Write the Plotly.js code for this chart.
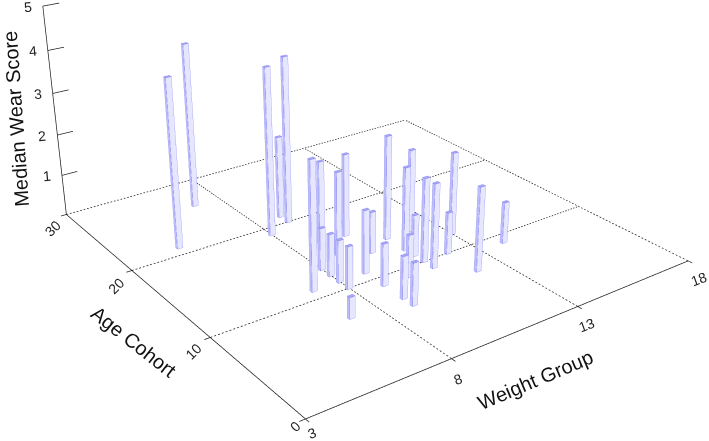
<!DOCTYPE html><html><head><meta charset="utf-8"><script src="https://cdn.plot.ly/plotly-3.0.1.min.js"></script></head><body style="margin:0;background:#fff;overflow:hidden">
<div id="g" style="width:709px;height:441px"></div>
<script>
const weightGroup=[5,7,8,9,9,7,9,8,8,9,8,10,8,7,9,10,9,11,11,12,11,10,9,9,11,11,12,13,12,14];
const ageCohort=[21,26,19,21,20,11,16,13,12,14,11,16,10,7,11,13,9,14,12,14,11,9,7,6,10,9,10,12,7,9];
const wearScore=[4,4,4,2,4,3,2,1,1,2,1,2,1,0.5,1.5,1,1,2.5,2,2,1,1,1,1,2,2,1,2,2,1];
const xTicks=[3,8,13,18],yTicks=[0,10,20,30],zTicks=[1,2,3,4,5];
const xLabelShift=[[7,-14],[7,-20],[9,-19],[11,-18]];
const yLabelShift=[[-10,-7],[-16,-14],[-16,-15],[-13,-14]];
const zLabelShift=[-15,-1];
const focal=1270,fov=2*Math.atan(220.5/focal);
const eye={x:-1.5083,y:-2.0466,z:1.0622},center={x:-0.2662,y:-0.3241,z:0},aspectY=1.0016,aspectZ=0.5012;
const bx=0.1,by=0.12;
const vx=[],vy=[],vz=[],ti=[],tj=[],tk=[],fc=[],ex=[],ey=[],ez=[];
const FA='#bcbcf9',FB='#e6e6ff',FT='#a8a8f6';
weightGroup.forEach((x,n)=>{const y=ageCohort[n],z=wearScore[n],o=vx.length;
 const xs=[x-bx,x+bx,x+bx,x-bx],ys=[y-by,y-by,y+by,y+by];
 for(const h of [0,z])for(let q=0;q<4;q++){vx.push(xs[q]);vy.push(ys[q]);vz.push(h)}
 const quad=(a,b,c,d,col)=>{ti.push(o+a,o+a);tj.push(o+b,o+c);tk.push(o+c,o+d);fc.push(col,col)};
 quad(0,1,5,4,FB);quad(1,2,6,5,FB);quad(2,3,7,6,FB);quad(3,0,4,7,FA);quad(4,5,6,7,FT);quad(0,3,2,1,FB);
 for(const h of [0,z]){for(const q of [0,1,2,3,0]){ex.push(xs[q]);ey.push(ys[q]);ez.push(h)}ex.push(null);ey.push(null);ez.push(null)}
 for(let q=0;q<4;q++){ex.push(xs[q],xs[q],null);ey.push(ys[q],ys[q],null);ez.push(0,z,null)}
});
const seg=(list)=>{const a=[[],[],[]];list.forEach(s=>{a[0].push(s[0],s[3],null);a[1].push(s[1],s[4],null);a[2].push(s[2],s[5],null)});return a};
const dotX=[],dotY=[],dotZ=[];
const addDots=(x0,y0,x1,y1,step)=>{const len=Math.hypot(x1-x0,y1-y0),n=Math.round(len/step);for(let i=0;i<n;i++){const t0=i/n,t1=(i+0.5)/n;dotX.push(x0+(x1-x0)*t0,x0+(x1-x0)*t1,null);dotY.push(y0+(y1-y0)*t0,y0+(y1-y0)*t1,null);dotZ.push(0,0,null)}};
xTicks.slice(1).forEach(x=>addDots(x,0,x,30,0.3));
yTicks.slice(1).forEach(y=>addDots(3,y,18,y,0.13));
const solid=seg([[3,0,0,18,0,0],[3,0,0,3,30,0],[3,30,0,3,30,5],...zTicks.map(z=>[3,30,z,3.57,30,z]),...xTicks.map(x=>[x,0,0,x,-0.35,0]),...yTicks.map(y=>[3,y,0,2.8,y,0])]);
const traces=[
 {type:'mesh3d',x:vx,y:vy,z:vz,i:ti,j:tj,k:tk,facecolor:fc,flatshading:true,lighting:{ambient:1,diffuse:0,specular:0,fresnel:0,roughness:1},hoverinfo:'skip'},
 {type:'scatter3d',mode:'lines',x:ex,y:ey,z:ez,line:{color:'#7676ee',width:1},hoverinfo:'skip'},
 {type:'scatter3d',mode:'lines',x:dotX,y:dotY,z:dotZ,line:{color:'#222',width:1.5},hoverinfo:'skip'},
 {type:'scatter3d',mode:'lines',x:solid[0],y:solid[1],z:solid[2],line:{color:'#222',width:1.5},hoverinfo:'skip'}];
const tickFont={family:'Liberation Sans',size:14,color:'#222'};
const lab=(x,y,z,t,a,s)=>({x,y,z,text:String(t),textangle:a,xshift:s[0],yshift:s[1],showarrow:false,xanchor:'center',yanchor:'middle',font:tickFont});
const annos=[...xTicks.map((t,i)=>lab(t,0,0,t,-20,xLabelShift[i])),...yTicks.map((t,i)=>lab(3,t,0,t,-45,yLabelShift[i])),...zTicks.map(t=>lab(3,30,t,t,-5,zLabelShift))];
const ax=r=>({range:r,showgrid:false,showline:false,zeroline:false,showticklabels:false,ticks:'',showspikes:false,showbackground:false,title:{text:''}});
const titleFont={family:'Liberation Sans',size:20,color:'#111'};
const ttl=(t,x,y,a)=>({xref:'paper',yref:'paper',x:x/709,y:1-y/441,text:t,textangle:a,showarrow:false,xanchor:'center',yanchor:'middle',font:titleFont});
const layout={width:709,height:441,margin:{l:0,r:0,t:0,b:0},paper_bgcolor:'#fff',showlegend:false,hovermode:false,
 annotations:[ttl('Weight Group',535,380,-23),ttl('Age Cohort',134,342,38),ttl('Median Wear Score',16,119,-94)],
 scene:{domain:{x:[0,1],y:[0,1]},xaxis:ax([2.5,18.5]),yaxis:ax([-1,31]),zaxis:ax([-0.5,5.5]),aspectmode:'manual',aspectratio:{x:16/15,y:aspectY*32/30,z:aspectZ*6/5},
  camera:{eye,center,up:{x:0,y:0,z:1}},annotations:annos,dragmode:false}};
Plotly.newPlot('g',traces,layout,{displayModeBar:false}).then(gd=>{const g=gd._fullLayout.scene._scene.glplot;g.fovy=fov;g.redraw&&g.redraw();});
</script></body></html>
